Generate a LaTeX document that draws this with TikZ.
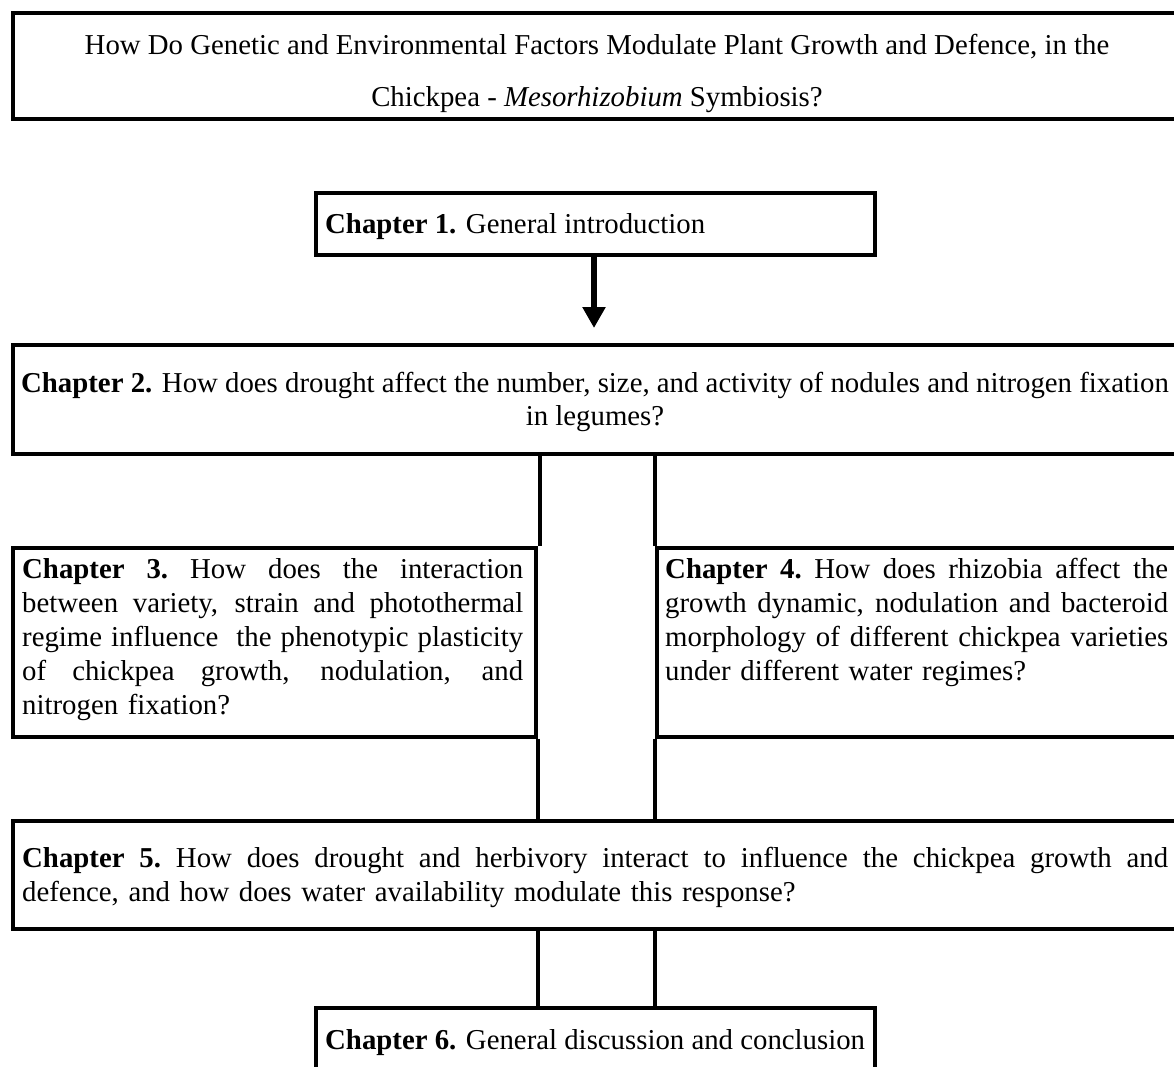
\documentclass[tikz,border=0pt]{standalone}
\usepackage{fontspec}
\setmainfont{Liberation Serif}
\usetikzlibrary{arrows.meta,calc}
\newcommand{\jline}[2]{\makebox[#1][s]{\spaceskip=\fontdimen2\font plus 1fil minus 0.4\fontdimen2\font\xspaceskip=\spaceskip #2}}
\begin{document}
\begin{tikzpicture}[x=1pt,y=-1pt,
  box/.style={draw=black, line width=3.8pt, inner sep=0pt, anchor=north west},
  txt/.style={inner sep=0pt, font=\fontsize{28.8}{34.2}\selectfont},
  conn/.style={draw=black, line width=3.8pt},
  arr/.style={draw=black, line width=6pt, -{Triangle[width=22pt,length=21pt]}}]
\useasboundingbox[fill=white] (0,0) rectangle (1174,1066);
\clip (0,0) rectangle (1174,1066);
% boxes
\node[box, minimum width=1190pt, minimum height=106pt] (title) at (11,11) {};
\node[box, minimum width=559pt, minimum height=62pt] (c1) at (314,191) {};
\node[box, minimum width=1190pt, minimum height=109pt] (c2) at (11,343) {};
\node[box, minimum width=523pt, minimum height=189pt] (c3) at (11,546) {};
\node[box, minimum width=560pt, minimum height=189pt] (c4) at (655,546) {};
\node[box, minimum width=1190pt, minimum height=108pt] (c5) at (11,819) {};
\node[box, minimum width=559pt, minimum height=100pt] (c6) at (314,1006) {};
% texts
\node[txt, anchor=base] (t0a) at (597,54) {How Do Genetic and Environmental Factors Modulate Plant Growth and Defence, in the};
\node[txt, anchor=base] (t0b) at (597,106) {Chickpea - \textit{Mesorhizobium} Symbiosis?};
\node[txt, anchor=base west] (t1) at (325,233) {\textbf{Chapter 1.} General introduction};
\node[txt, anchor=base] (t2a) at (595,392) {\textbf{Chapter 2.} How does drought affect the number, size, and activity of nodules and nitrogen fixation};
\node[txt, anchor=base] (t2b) at (595,425) {in legumes?};
\node[txt, anchor=base west, text width=501pt, align=left] (t3) at (22,578) {%
\jline{501pt}{\textbf{Chapter 3.} How does the interaction}\\
\jline{501pt}{between variety, strain and photothermal}\\
\jline{501pt}{regime influence\ \ the phenotypic plasticity}\\
\jline{501pt}{of chickpea growth, nodulation, and}\\
nitrogen fixation?};
\node[txt, anchor=base west, text width=503pt, align=left] (t4) at (665,578) {%
\jline{503pt}{\textbf{Chapter 4.} How does rhizobia affect the}\\
\jline{503pt}{growth dynamic, nodulation and bacteroid}\\
\jline{503pt}{morphology of different chickpea varieties}\\
under different water regimes?};
\node[txt, anchor=base west, text width=1146pt, align=left] (t5) at (22,867) {%
\jline{1146pt}{\textbf{Chapter 5.} How does drought and herbivory interact to influence the chickpea growth and}\\
defence, and how does water availability modulate this response?};
\node[txt, anchor=base west] (t6) at (325,1049) {\textbf{Chapter 6.} General discussion and conclusion};
% connectors
\draw[arr] (c1.south -| 594,0) -- ([yshift=15pt]c2.north -| 594,0);
\draw[conn] ([xshift=2pt]c3.north east) -- ([xshift=2pt]c3.north east |- c2.south);
\draw[conn] (c3.south east) -- (c3.south east |- c5.north);
\draw[conn] (c4.north west) -- (c4.north west |- c2.south);
\draw[conn] (c4.south west) -- (c4.south west |- c5.north);
\draw[conn] (c5.south -| c3.east) -- (c6.north -| c3.east);
\draw[conn] (c5.south -| c4.west) -- (c6.north -| c4.west);
\end{tikzpicture}
\end{document}
